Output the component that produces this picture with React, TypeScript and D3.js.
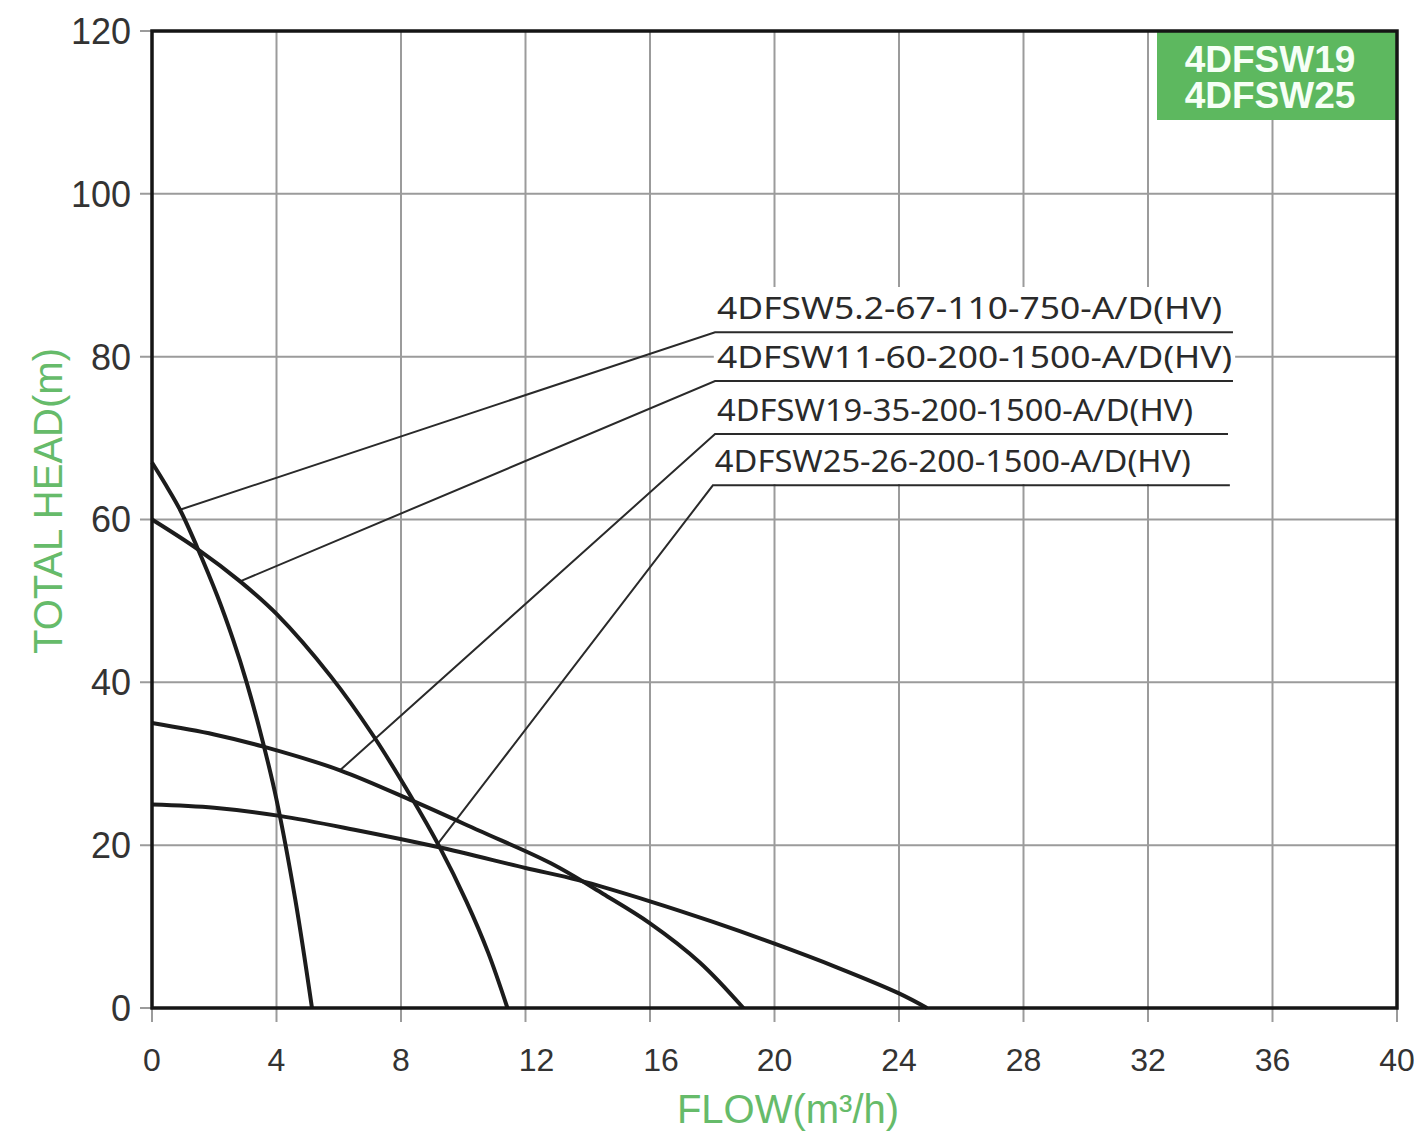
import React from "react";
import * as d3 from "d3";

// ---- data (flow m³/h, head m) ----
const xTicks = [0, 4, 8, 12, 16, 20, 24, 28, 32, 36, 40];
const yTicks = [0, 20, 40, 60, 80, 100, 120];

const curve52: [number, number][] = [
  [0, 67], [0.45, 64.2], [0.9, 61.2], [1.45, 56.6], [2.1, 50.6], [2.6, 45.3],
  [3.04, 40], [3.58, 32.4], [4.0, 25.6], [4.6, 13.4], [5.14, 0],
];
const curve11: [number, number][] = [
  [0, 60], [1.45, 56.4], [2.83, 52.4], [4.0, 48.4], [5.75, 40.7], [7.1, 33.5],
  [8.3, 26.1], [9.25, 19.7], [10.1, 13.1], [10.8, 6.8], [11.42, 0],
];
const curve19: [number, number][] = [
  [0, 35], [2, 33.6], [3.58, 32.1], [6.04, 29.2], [8.4, 25.4], [10.5, 21.8],
  [12.8, 17.8], [14.5, 14.0], [16, 10.4], [17.6, 5.6], [19.0, 0],
];
const curve25: [number, number][] = [
  [0, 25], [2, 24.6], [4.1, 23.6], [6.5, 21.9], [9.15, 19.8], [12, 17.2],
  [13.7, 15.7], [16, 13.1], [18, 10.6], [20, 7.9], [22, 5.0], [24, 1.8], [24.9, 0],
];
const curves = [curve52, curve11, curve19, curve25];

const modelLabels = [
  "4DFSW5.2-67-110-750-A/D(HV)",
  "4DFSW11-60-200-1500-A/D(HV)",
  "4DFSW19-35-200-1500-A/D(HV)",
  "4DFSW25-26-200-1500-A/D(HV)",
];
// leader anchor on curve (flow, head), elbow (flow, head), underline end flow
const leaderStart: [number, number][] = [[0.9, 61.2], [2.83, 52.4], [6.04, 29.2], [9.15, 20.0]];
const leaderElbowHead = [83.0, 77.0, 70.5, 64.2];
const leaderElbowFlow = [18.09, 18.09, 18.09, 18.02];
const leaderEndFlow = [34.73, 34.73, 34.57, 34.63];

const badgeLines = ["4DFSW19", "4DFSW25"];

// ---- layout ----
const W = 1414, H = 1136;
const M = { left: 152, right: 1397, top: 31, bottom: 1008 };
const labelWidths = [505, 515, 476, 476];

export default function App() {
  const x = d3.scaleLinear().domain([0, 40]).range([M.left, M.right]);
  const y = d3.scaleLinear().domain([0, 120]).range([M.bottom, M.top]);
  const line = d3
    .line<[number, number]>()
    .x((d) => x(d[0]))
    .y((d) => y(d[1]))
    .curve(d3.curveCatmullRom.alpha(0.5));

  const grid = "#9b9b9b";
  const green = "#5db85f";
  const titleGreen = "#66bb6a";

  return (
    <svg
      width={W}
      height={H}
      style={{ position: "absolute", left: 0, top: 0, background: "#fff" }}
      fontFamily="'Liberation Sans', Arial, sans-serif"
    >
      <rect x={0} y={0} width={W} height={H} fill="#fff" />
      {/* grid */}
      {xTicks.map((t) => (
        <line key={"gx" + t} x1={x(t)} x2={x(t)} y1={M.top} y2={M.bottom + 14} stroke={grid} strokeWidth={2} />
      ))}
      {yTicks.map((t) => (
        <line key={"gy" + t} x1={M.left - 12} x2={M.right} y1={y(t)} y2={y(t)} stroke={grid} strokeWidth={2} />
      ))}

      {/* badge */}
      <rect x={1157} y={M.top} width={M.right - 1157} height={89} fill={green} />
      {badgeLines.map((s, i) => (
        <text key={s} x={1270} y={72 + i * 36} textAnchor="middle" fontWeight="bold" fontSize={37} fill="#f6fff6">
          {s}
        </text>
      ))}

      {/* label block background */}
      <rect x={x(18.05)} y={287} width={x(34.8) - x(18.05)} height={197} fill="#fff" />

      {/* leaders */}
      {modelLabels.map((lab, i) => {
        const sx = x(leaderStart[i][0]);
        const sy = y(leaderStart[i][1]);
        const ex = x(leaderElbowFlow[i]);
        const ey = y(leaderElbowHead[i]);
        const fx = x(leaderEndFlow[i]);
        return (
          <g key={lab}>
            <polyline points={`${sx},${sy} ${ex},${ey} ${fx},${ey}`} fill="none" stroke="#2a2a2a" strokeWidth={2} />
            <text
              x={ex + 2}
              y={ey - 13}
              fontFamily="'Noto Sans', 'Open Sans', sans-serif"
              fontSize={30}
              fill="#2a2a2a"
              textLength={labelWidths[i]}
              lengthAdjust="spacingAndGlyphs"
            >
              {lab}
            </text>
          </g>
        );
      })}

      {/* curves */}
      {curves.map((c, i) => (
        <path key={i} d={line(c) || ""} fill="none" stroke="#1c1c1c" strokeWidth={4} strokeLinejoin="round" />
      ))}

      {/* frame */}
      <rect x={M.left} y={M.top} width={M.right - M.left} height={M.bottom - M.top} fill="none" stroke="#151515" strokeWidth={3.5} />

      {/* tick labels */}
      {yTicks.map((t) => (
        <text key={"ly" + t} x={131} y={y(t)} dy="0.36em" textAnchor="end" fontSize={36} fill="#333">
          {t}
        </text>
      ))}
      {xTicks.map((t) => (
        <text
          key={"lx" + t}
          x={x(t) + (t >= 10 && t < 20 ? 11 : 0)}
          y={1071}
          textAnchor="middle"
          fontSize={32}
          fill="#333"
        >
          {t}
        </text>
      ))}

      {/* axis titles */}
      <text x={788} y={1123} textAnchor="middle" fontSize={40} fill={titleGreen}>
        FLOW(m³/h)
      </text>
      <text transform="translate(62,501) rotate(-90)" textAnchor="middle" fontSize={40} fill={titleGreen}>
        TOTAL HEAD(m)
      </text>
    </svg>
  );
}
